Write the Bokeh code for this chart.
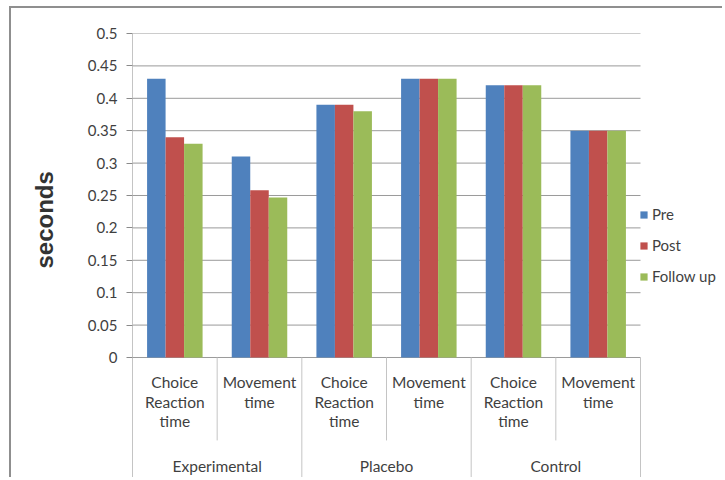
from bokeh.plotting import figure
from bokeh.models import Range1d, FixedTicker, ColumnDataSource, Legend, LegendItem
from bokeh.core.properties import value
from bokeh.embed import file_html
from bokeh.resources import INLINE

# ---- data ----
groups = ["Experimental", "Placebo", "Control"]
measures = ["Choice\nReaction\ntime", "Movement\ntime"]
series = ["Pre", "Post", "Follow up"]
pre = [0.43, 0.31, 0.39, 0.43, 0.42, 0.35]
post = [0.34, 0.258, 0.39, 0.43, 0.42, 0.35]
follow = [0.33, 0.247, 0.38, 0.43, 0.42, 0.35]
colors = ["#4F81BD", "#C0504D", "#9BBB59"]
yticks = [0, 0.05, 0.1, 0.15, 0.2, 0.25, 0.3, 0.35, 0.4, 0.45, 0.5]
ytick_labels = ["0", "0.05", "0.1", "0.15", "0.2", "0.25", "0.3", "0.35", "0.4", "0.45", "0.5"]
y_label = "seconds"

FONT = "Lato"
TXT = "#3f3f3f"

n_cat = len(groups) * len(measures)
centers = [i + 0.5 for i in range(n_cat)]
bw = 0.2185
y_bottom = -0.1883
x_right = 6.992

p = figure(width=713, height=471,
           x_range=Range1d(0, x_right), y_range=Range1d(y_bottom, 0.5),
           x_axis_location=None, output_backend="svg", toolbar_location=None,
           min_border_left=121, min_border_right=0, min_border_top=25, min_border_bottom=0)
p.styles = {"margin-left": "9px", "margin-top": "6px",
            "border-top": "2px solid #8f8f8f", "border-left": "2px solid #8f8f8f"}
p.outline_line_color = None
p.xgrid.visible = False
p.ygrid.visible = False

ticker = FixedTicker(ticks=yticks)
p.yaxis.ticker = ticker
p.yaxis.major_label_overrides = {t: l for t, l in zip(yticks, ytick_labels)}
p.yaxis.minor_tick_line_color = None
p.yaxis.major_tick_in = 0
p.yaxis.major_tick_out = 6
p.yaxis.major_tick_line_color = "#8a8a8a"
p.yaxis.axis_line_color = "#c4c4c4"
p.yaxis.major_label_standoff = 9
p.yaxis.major_label_text_font = FONT
p.yaxis.major_label_text_font_size = "15px"
p.yaxis.major_label_text_color = TXT
# leading no-break spaces lift the label above the frame's centre, as in the reference
p.yaxis.axis_label = "\u00a0" * 11 + y_label
p.yaxis.axis_label_standoff = 27
p.yaxis.axis_label_text_font = "Liberation Sans"
p.yaxis.axis_label_text_font_style = "bold"
p.yaxis.axis_label_text_font_size = "24px"
p.yaxis.axis_label_text_color = "#333333"

# horizontal grid lines over the category span
p.segment(x0=[0] * len(yticks), y0=yticks, x1=[n_cat] * len(yticks), y1=yticks,
          line_color="#9a9a9a", line_width=1)

renderers = []
for k, (vals, col) in enumerate(zip([pre, post, follow], colors)):
    src = ColumnDataSource(dict(x=[c + (k - 1) * bw for c in centers], top=vals))
    r = p.vbar(x="x", top="top", bottom=0, width=bw, source=src,
               fill_color=col, line_color=None)
    renderers.append(r)

# category separators
sub_bottom = -0.128
x0s, y1s = [], []
for i in range(1, n_cat + 1):
    x0s.append(i)
    y1s.append(y_bottom if i % len(measures) == 0 else sub_bottom)
p.segment(x0=x0s, y0=[0] * len(x0s), x1=x0s, y1=y1s, line_color="#c4c4c4", line_width=1)

# sub-category labels
sub_labels = measures * len(groups)
p.text(x=centers, y=[-0.0235] * n_cat, text=sub_labels, text_align="center",
       text_baseline="top", text_font=value(FONT), text_font_size="15.5px",
       text_color=TXT, text_line_height=1.1)

# group labels
gcenters = [g * len(measures) + len(measures) / 2 for g in range(len(groups))]
p.text(x=gcenters, y=[-0.1682] * len(groups), text=groups, text_align="center",
       text_baseline="middle", text_font=value(FONT), text_font_size="15.5px",
       text_color=TXT)

legend = Legend(items=[LegendItem(label=s, renderers=[r]) for s, r in zip(series, renderers)],
                location=(507, 193), glyph_width=9, glyph_height=9, label_standoff=4,
                label_height=20, spacing=11, padding=0, margin=0,
                label_text_font=FONT, label_text_font_size="15px", label_text_color=TXT,
                border_line_color=None, background_fill_alpha=0)
p.add_layout(legend, "center")

open("out.html", "w").write(file_html(p, INLINE))
